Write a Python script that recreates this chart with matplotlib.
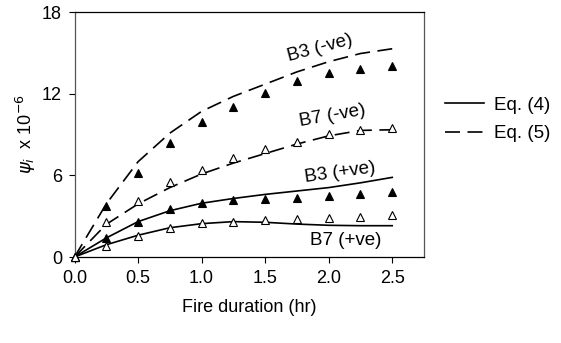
import matplotlib
matplotlib.use("Agg")
import matplotlib.pyplot as plt
from matplotlib.lines import Line2D

plt.rcParams['font.family'] = ['Liberation Sans', 'DejaVu Sans']
plt.rcParams['mathtext.fontset'] = 'dejavusans'

# fire duration (hr)
hours = [0, 0.25, 0.5, 0.75, 1.0, 1.25, 1.5, 1.75, 2.0, 2.25, 2.5]

# measured curvatures (x 10^-6)
b3_neg_test = [0, 3.75, 6.2, 8.35, 9.9, 11.0, 12.05, 12.9, 13.5, 13.8, 14.0]
b7_neg_test = [0, 2.6, 4.1, 5.5, 6.4, 7.25, 7.9, 8.45, 9.05, 9.35, 9.5]
b3_pos_test = [0, 1.42, 2.55, 3.5, 4.0, 4.2, 4.24, 4.36, 4.48, 4.63, 4.78]
b7_pos_test = [0, 0.8, 1.55, 2.1, 2.47, 2.6, 2.72, 2.77, 2.84, 2.96, 3.09]

# Eq. (5) predictions, negative moment
b3_neg_eq5 = [0, 3.9, 7.0, 9.1, 10.7, 11.8, 12.7, 13.6, 14.35, 14.95, 15.3]
b7_neg_eq5 = [0, 2.4, 3.9, 5.1, 6.1, 6.9, 7.6, 8.3, 8.9, 9.3, 9.35]
# Eq. (4) predictions, positive moment
b3_pos_eq4 = [0, 1.4, 2.6, 3.4, 3.95, 4.3, 4.6, 4.85, 5.1, 5.45, 5.85]
b7_pos_eq4 = [0, 0.9, 1.6, 2.15, 2.45, 2.6, 2.55, 2.42, 2.33, 2.3, 2.3]

fig = plt.figure(figsize=(5.61, 3.43), dpi=100)
ax = fig.add_axes([0.1328, 0.2507, 0.623, 0.7143])

dash = (0, (9, 4.5))
ax.plot(hours, b3_neg_eq5, color='black', lw=1.2, linestyle=dash)
ax.plot(hours, b7_neg_eq5, color='black', lw=1.2, linestyle=dash)
ax.plot(hours, b3_pos_eq4, color='black', lw=1.2)
ax.plot(hours, b7_pos_eq4, color='black', lw=1.2)

for vals, face in [(b3_neg_test, 'black'), (b7_neg_test, 'white'),
                   (b3_pos_test, 'black'), (b7_pos_test, 'white')]:
    ax.plot(hours, vals, linestyle='none', marker='^', markersize=6,
            markerfacecolor=face, markeredgecolor='black', markeredgewidth=0.8,
            clip_on=False, zorder=3)

ax.text(1.93, 15.35, 'B3 (-ve)', fontsize=13.5, rotation=15, ha='center', va='center')
ax.text(2.03, 10.36, 'B7 (-ve)', fontsize=13.5, rotation=10, ha='center', va='center')
ax.text(2.09, 6.17, 'B3 (+ve)', fontsize=13.5, rotation=8, ha='center', va='center')
ax.text(2.13, 1.18, 'B7 (+ve)', fontsize=13.5, ha='center', va='center')

ax.set_xlim(0, 2.75)
ax.set_ylim(0, 18)
ax.set_xticks([0, 0.5, 1.0, 1.5, 2.0, 2.5])
ax.set_xticklabels(['0.0', '0.5', '1.0', '1.5', '2.0', '2.5'])
ax.set_yticks([0, 6, 12, 18])
ax.tick_params(axis='both', labelsize=13, direction='out', length=4, width=0.8)
ax.tick_params(axis='x', pad=5)
ax.tick_params(axis='y', pad=5)
for s in ax.spines.values():
    s.set_linewidth(0.9)
ax.spines['left'].set_color('#555555')
ax.spines['right'].set_color('#555555')

ax.set_xlabel('Fire duration (hr)', fontsize=13, labelpad=9)
ax.set_ylabel(r'$\psi_i$  x 10$^{-6}$', fontsize=13, labelpad=3)

handles = [Line2D([], [], color='black', lw=1.2),
           Line2D([], [], color='black', lw=1.2, linestyle=dash)]
fig.legend(handles, ['Eq. (4)', 'Eq. (5)'], loc='upper left',
           bbox_to_anchor=(0.793, 0.718), frameon=False, fontsize=13.5,
           borderpad=0, borderaxespad=0,
           handlelength=2.1, handletextpad=0.5, labelspacing=0.6)

fig.savefig('out.png', dpi=100)
